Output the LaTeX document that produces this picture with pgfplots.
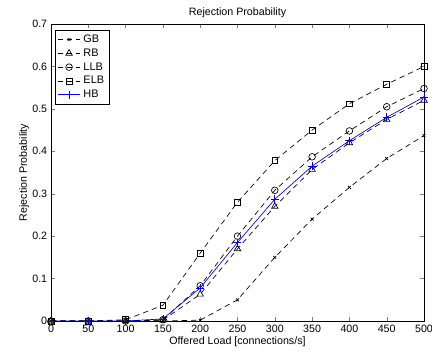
\documentclass[border=0pt]{standalone}
\usepackage{pgfplots}
\pgfplotsset{compat=1.18}
\usepackage{fontspec}
\setmainfont{Liberation Sans}
\begin{document}
\fontsize{8}{9.5}\selectfont
\begin{tikzpicture}
\begin{axis}[
  scale only axis, width=279.75pt, height=222.75pt,
  at={(0,0)}, anchor=south west,
  xmin=0, xmax=500, ymin=0, ymax=0.7,
  xtick={0,50,...,500}, ytick={0,0.1,...,0.7},
  yticklabels={0,0.1,0.2,0.3,0.4,0.5,0.6,0.7},
  tick align=inside, major tick length=3pt,
  xtick pos=both, ytick pos=both,
  /pgf/number format/assume math mode=true,
  tick label style={font=\fontsize{8}{9.5}\selectfont},
  label style={font=\fontsize{8}{9.5}\selectfont},
  title style={font=\fontsize{8}{9.5}\selectfont, yshift=-4pt},
  title={Rejection Probability},
  xlabel={Offered Load [connections/s]},
  ylabel={Rejection Probability},
  xlabel style={yshift=2pt},
  ylabel style={yshift=-3pt},
  legend style={at={(0.011,0.98)}, anchor=north west, draw=black, font=\fontsize{8.2}{10}\selectfont, inner sep=1.5pt, row sep=-0.5pt, cells={anchor=west}},
  legend cell align=left,
  every axis plot/.append style={line width=0.5pt},
]
\addplot[black, dash pattern=on 4pt off 3pt, mark=x, mark size=1.5pt, mark options={solid}] coordinates {
(0,0) (50,0) (100,0) (150,0) (200,0.002) (250,0.05) (300,0.15) (350,0.24) (400,0.315) (450,0.383) (500,0.437)};
\addlegendentry{GB}
\addplot[black, dash pattern=on 4pt off 3pt, mark=triangle, mark size=2.8pt, mark options={solid}] coordinates {
(0,0) (50,0) (100,0) (150,0.002) (200,0.063) (250,0.17) (300,0.27) (350,0.357) (400,0.42) (450,0.475) (500,0.52)};
\addlegendentry{RB}
\addplot[black, dash pattern=on 4pt off 3pt, mark=o, mark size=2.5pt, mark options={solid}] coordinates {
(0,0) (50,0) (100,0) (150,0.003) (200,0.083) (250,0.2) (300,0.308) (350,0.387) (400,0.448) (450,0.505) (500,0.548)};
\addlegendentry{LLB}
\addplot[black, dash pattern=on 4pt off 3pt, mark=square, mark size=2.2pt, mark options={solid}] coordinates {
(0,0) (50,0) (100,0.003) (150,0.037) (200,0.16) (250,0.28) (300,0.378) (350,0.45) (400,0.512) (450,0.558) (500,0.6)};
\addlegendentry{ELB}
\addplot[blue, solid, mark=+, mark size=3pt] coordinates {
(0,0) (50,0) (100,0) (150,0.005) (200,0.078) (250,0.185) (300,0.287) (350,0.365) (400,0.425) (450,0.48) (500,0.528)};
\addlegendentry{HB}
\end{axis}
\pgfresetboundingbox
\path[use as bounding box] (-38.25pt,-22.5pt) rectangle (285.75pt,240.75pt);
\end{tikzpicture}
\end{document}
